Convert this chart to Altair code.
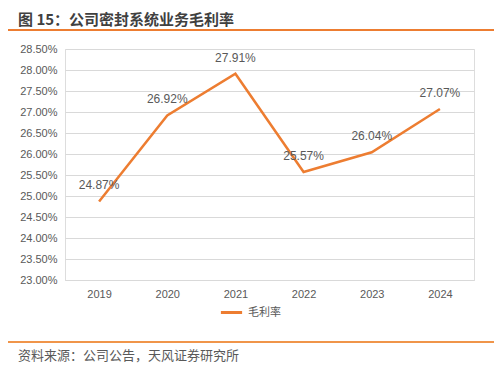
import altair as alt
import pandas as pd

years = ["2019", "2020", "2021", "2022", "2023", "2024"]
margin = [0.2487, 0.2692, 0.2791, 0.2557, 0.2604, 0.2707]
series_name = "毛利率"
y_ticks = [0.23, 0.235, 0.24, 0.245, 0.25, 0.255, 0.26, 0.265, 0.27, 0.275, 0.28, 0.285]
title_text = "图 15：公司密封系统业务毛利率"
source_text = "资料来源：公司公告，天风证券研究所"

df = pd.DataFrame({"year": years, "value": margin, "series": [series_name] * len(years)})

W, H = 409, 231
orange = "#ED7D31"
grey = "#595959"
num_font = "Liberation Sans"
cjk_font = "Noto Sans CJK SC"

base = alt.Chart(df)

x = alt.X("year:N", sort=years, title=None,
          scale=alt.Scale(paddingInner=0, paddingOuter=0),
          axis=alt.Axis(labelAngle=0, labelFont=num_font, labelFontSize=11, labelColor=grey,
                        domainColor="#d9d9d9", ticks=False, labelPadding=8, grid=False))
y = alt.Y("value:Q", title=None,
          scale=alt.Scale(domain=[0.23, 0.285], nice=False, zero=False),
          axis=alt.Axis(values=y_ticks, format=".2%", labelFont=num_font, labelFontSize=11,
                        labelColor=grey, domain=False, ticks=False, labelPadding=8,
                        labelOverlap=False, labelBound=False,
                        gridColor="#d9d9d9", gridWidth=1))

line = base.mark_line(strokeWidth=2.5).encode(
    x=x, y=y,
    color=alt.Color("series:N", scale=alt.Scale(range=[orange]),
                    legend=alt.Legend(orient="none", legendX=154, legendY=251, title=None,
                                      symbolType="stroke", symbolStrokeWidth=3, symbolSize=450,
                                      labelFont=cjk_font, labelFontSize=11, labelColor=grey)))

labels = base.mark_text(dy=-16, font=num_font, fontSize=12, color=grey).encode(
    x=x, y=y, text=alt.Text("value:Q", format=".2%"))

one = alt.Chart(pd.DataFrame({"t": [title_text], "s": [source_text]}))

title = one.mark_text(align="left", baseline="middle", font=cjk_font, fontSize=15,
                      fontWeight="bold", color="#404040").encode(
    x=alt.value(-47), y=alt.value(-29), text="t:N")
top_rule = one.mark_rule(color=orange, strokeWidth=2).encode(
    x=alt.value(-60), x2=alt.value(432), y=alt.value(-19))
bottom_rule = one.mark_rule(color="#F0954A", strokeWidth=2).encode(
    x=alt.value(-60), x2=alt.value(432), y=alt.value(293))
source = one.mark_text(align="left", baseline="middle", font=cjk_font, fontSize=13,
                       color=grey).encode(x=alt.value(-47), y=alt.value(307), text="s:N")

chart = alt.layer(line, labels, title, top_rule, bottom_rule, source).properties(
    width=W, height=H,
    autosize=alt.AutoSizeParams(type="none"),
    padding={"left": 57, "top": 41, "right": 20, "bottom": 84},
).configure_view(stroke=None).configure(background="white")

chart.save("out.html", embed_options={"renderer": "svg", "actions": False})
